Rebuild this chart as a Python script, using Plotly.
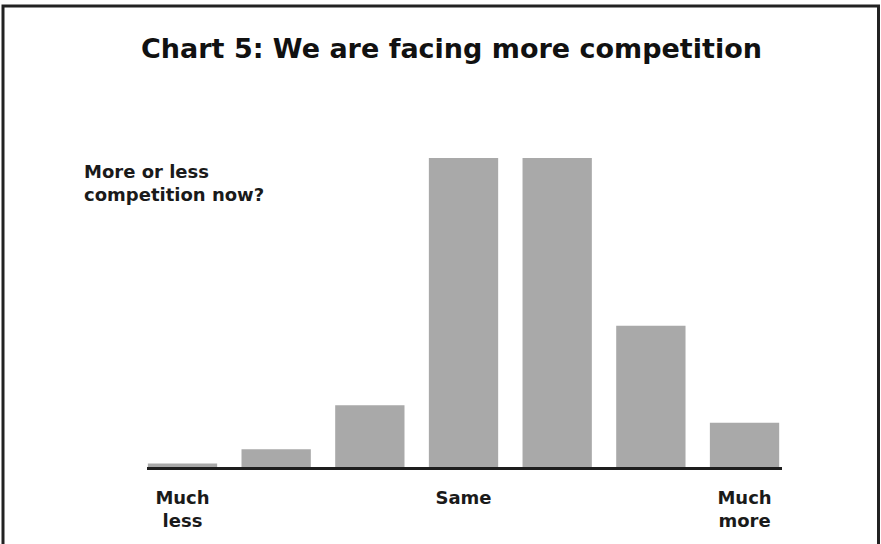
import plotly.graph_objects as go

categories = ["Much less", "", "", "Same", "", "", "Much more"]
values = [0.4, 2, 7, 35, 35, 16, 5]
tick_positions = [0, 3, 6]
tick_labels = ["Much<br>less", "Same", "Much<br>more"]
title_text = "Chart 5: We are facing more competition"
note_text = "More or less<br>competition now?"

W, H = 881, 544
L, R, T = 147, 99, 158
B = 77
pw, ph = W - L - R, H - T - B


def px_x(px):
    return (px - L) / pw


def px_y(py):
    return (H - B - py) / ph


x_idx = list(range(len(values)))

fig = go.Figure(
    go.Bar(
        x=x_idx,
        y=values,
        width=0.74,
        marker=dict(color="#a9a9a9", line=dict(width=0)),
        hovertext=categories,
    )
)

fig.update_layout(
    width=W,
    height=H,
    margin=dict(l=L, r=R, t=T, b=B, pad=0, autoexpand=False),
    paper_bgcolor="white",
    plot_bgcolor="white",
    showlegend=False,
    font=dict(family="DejaVu Sans", color="#1a1a1a"),
    xaxis=dict(
        range=[-0.379, 6.40],
        tickvals=tick_positions,
        ticktext=tick_labels,
        showline=True,
        linecolor="#1e1e1e",
        linewidth=3,
        ticks="",
        showgrid=False,
        zeroline=False,
        automargin=False,
        tickfont=dict(family="DejaVu Sans", size=18, color="#1a1a1a", weight="bold"),
        ticklabelstandoff=12,
    ),
    yaxis=dict(
        range=[0, 35],
        showticklabels=False,
        showgrid=False,
        zeroline=False,
        showline=False,
        automargin=False,
        ticks="",
    ),
    annotations=[
        dict(
            text=title_text,
            xref="paper", yref="paper",
            x=px_x(139), y=px_y(48),
            xanchor="left", yanchor="middle",
            showarrow=False,
            font=dict(family="DejaVu Sans", size=27, color="#111111", weight="bold"),
        ),
        dict(
            text=note_text,
            xref="paper", yref="paper",
            x=px_x(82), y=px_y(159),
            xanchor="left", yanchor="top",
            align="left",
            showarrow=False,
            font=dict(family="DejaVu Sans", size=18, color="#1a1a1a", weight="bold"),
        ),
    ],
    shapes=[
        dict(
            type="rect",
            xref="paper", yref="paper",
            x0=px_x(3), x1=px_x(878.5),
            y0=px_y(620), y1=px_y(6),
            line=dict(color="#222222", width=3),
            fillcolor="rgba(0,0,0,0)",
            layer="above",
        )
    ],
)

fig.write_html(
    "out.html",
    config={"displayModeBar": False},
    post_script="document.body.style.margin='0';document.body.style.padding='0';",
)
